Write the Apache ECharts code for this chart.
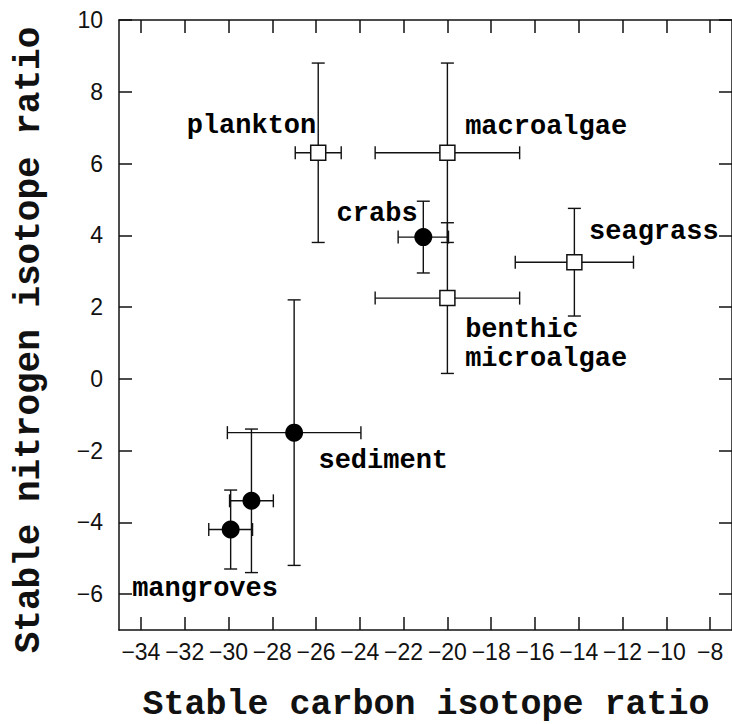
<!DOCTYPE html>
<html>
<head>
<meta charset="UTF-8">
<title>Stable isotope ratios</title>
<script src="https://cdn.jsdelivr.net/npm/echarts@6/dist/echarts.min.js"></script>
<style>
	html, body { margin:0; padding:0; background:#fff; }
	#chart { width:732px; height:724px; }
</style>
</head>
<body>
<div id="chart"></div>
<script>
	/* primary sources - open squares */
	var srcNames = ['plankton', 'macroalgae', 'benthic microalgae', 'seagrass'];
	var srcC = [-25.9, -20.0, -20.0, -14.2];
	var srcN = [6.3, 6.3, 2.25, 3.25];
	var srcCerr = [1.05, 3.3, 3.3, 2.7];
	var srcNerr = [2.5, 2.5, 2.1, 1.5];

	/* consumers and sediment - filled circles */
	var conNames = ['crabs', 'sediment', 'mangroves', 'mangroves'];
	var conC = [-21.1, -27.0, -28.95, -29.9];
	var conN = [3.95, -1.5, -3.4, -4.2];
	var conCerr = [1.15, 3.05, 1.0, 1.0];
	var conNerr = [1.0, 3.7, 2.0, 1.1];

	/* tick labels */
	var xTicks = [-34, -32, -30, -28, -26, -24, -22, -20, -18, -16, -14, -12, -10, -8];
	var yTicks = [-6, -4, -2, 0, 2, 4, 6, 8, 10];

	var ink = '#111';
	var monoFont = '"Liberation Mono", "Courier New", monospace';
	var numFont = '"Liberation Sans", Arial, sans-serif';

	function minus(v){
		return String(v).replace('-', '\u2212');
	}

	function rows(names, c, n, ce, ne){
		return names.map(function(nm, i){
			return { name: nm, value: [c[i], n[i], ce[i], ne[i]] };
		});
	}
	var srcData = rows(srcNames, srcC, srcN, srcCerr, srcNerr);
	var conData = rows(conNames, conC, conN, conCerr, conNerr);

	// error bars with caps
	function renderErr(params, api){
		var x = api.value(0), y = api.value(1), ex = api.value(2), ey = api.value(3);
		var l = api.coord([x - ex, y]), r = api.coord([x + ex, y]);
		var t = api.coord([x, y + ey]), b = api.coord([x, y - ey]);
		var cap = 6.5;
		var st = { stroke: ink, lineWidth: 1.4 };
		function seg(x1, y1, x2, y2){
			return { type: 'line', shape: { x1: x1, y1: y1, x2: x2, y2: y2 }, style: st };
		}
		return {
			type: 'group',
			children: [
				seg(l[0], l[1], r[0], r[1]),
				seg(t[0], t[1], b[0], b[1]),
				seg(l[0], l[1] - cap, l[0], l[1] + cap),
				seg(r[0], r[1] - cap, r[0], r[1] + cap),
				seg(t[0] - cap, t[1], t[0] + cap, t[1]),
				seg(b[0] - cap, b[1], b[0] + cap, b[1])
			]
		};
	}

	/* annotations (text anchor in data units) */
	var notes = [
		{ text: 'plankton', at: [-25.99, 7.05], align: 'right' },
		{ text: 'macroalgae', at: [-19.19, 7.03], align: 'left' },
		{ text: 'crabs', at: [-21.36, 4.59], align: 'right' },
		{ text: 'seagrass', at: [-13.53, 4.1], align: 'left' },
		{ text: 'benthic\nmicroalgae', at: [-19.19, 0.95], align: 'left' },
		{ text: 'sediment', at: [-25.89, -2.29], align: 'left' },
		{ text: 'mangroves', at: [-34.4, -5.87], align: 'left' }
	];

	var axisLineStyle = { color: ink, width: 1.5 };
	function xAx(pos, labels){
		return {
			type: 'value', min: -35, max: -7, position: pos,
			axisLine: { show: true, onZero: false, lineStyle: axisLineStyle },
			axisTick: { show: true, inside: true, length: 13, customValues: xTicks, lineStyle: axisLineStyle },
			axisLabel: {
				show: labels, customValues: xTicks, formatter: minus, margin: 10,
				interval: 0, showMinLabel: true, showMaxLabel: true, hideOverlap: false,
				color: ink, fontFamily: numFont, fontSize: 23
			},
			splitLine: { show: false }
		};
	}
	function yAx(pos, labels){
		return {
			type: 'value', min: -7, max: 10, position: pos,
			axisLine: { show: true, onZero: false, lineStyle: axisLineStyle },
			axisTick: { show: true, inside: true, length: 13, customValues: yTicks, lineStyle: axisLineStyle },
			axisLabel: {
				show: labels, customValues: yTicks, formatter: minus, margin: 16,
				interval: 0, showMinLabel: true, showMaxLabel: true,
				color: ink, fontFamily: numFont, fontSize: 23
			},
			splitLine: { show: false }
		};
	}

	var chart = echarts.init(document.getElementById('chart'), null, { renderer: 'svg' });
	var option = {
		animation: false,
		backgroundColor: '#fff',
		grid: { left: 119, right: -1, top: 20, bottom: 94 },
		xAxis: [xAx('bottom', true), xAx('top', false)],
		yAxis: [yAx('left', true), yAx('right', false)],
		graphic: [
			{
				type: 'text', x: 426, y: 705,
				style: {
					text: 'Stable carbon isotope ratio', fill: ink,
					fontFamily: monoFont, fontSize: 35, fontWeight: 'bold',
					align: 'center', verticalAlign: 'middle',
					textAlign: 'center', textVerticalAlign: 'middle'
				}
			},
			{
				type: 'text', x: 29, y: 340, rotation: Math.PI / 2,
				style: {
					text: 'Stable nitrogen isotope ratio', fill: ink,
					fontFamily: monoFont, fontSize: 36, fontWeight: 'bold',
					align: 'center', verticalAlign: 'middle',
					textAlign: 'center', textVerticalAlign: 'middle'
				}
			}
		],
		series: [
			{
				type: 'custom', name: 'src-err', renderItem: renderErr,
				encode: { x: 0, y: 1 }, data: srcData, z: 2
			},
			{
				type: 'custom', name: 'con-err', renderItem: renderErr,
				encode: { x: 0, y: 1 }, data: conData, z: 2
			},
			{
				type: 'scatter', name: 'sources', symbol: 'rect', symbolSize: 15,
				itemStyle: { color: '#fff', borderColor: ink, borderWidth: 1.5, opacity: 1 },
				data: srcData, z: 3
			},
			{
				type: 'scatter', name: 'consumers', symbol: 'circle', symbolSize: 18,
				itemStyle: { color: '#000', opacity: 1 },
				data: conData, z: 3
			},
			{
				type: 'scatter', name: 'notes', symbolSize: 0, silent: true, z: 4,
				itemStyle: { opacity: 1 },
				label: {
					show: true, position: [0, 0], verticalAlign: 'middle',
					color: '#000', opacity: 1, textBorderWidth: 0,
					fontFamily: monoFont, fontSize: 27, fontWeight: 'bold',
					lineHeight: 29,
					formatter: function(p){ return p.name; }
				},
				data: notes.map(function(n){
					return { name: n.text, value: n.at, label: { align: n.align } };
				})
			}
		]
	};
	chart.setOption(option);
</script>
</body>
</html>
